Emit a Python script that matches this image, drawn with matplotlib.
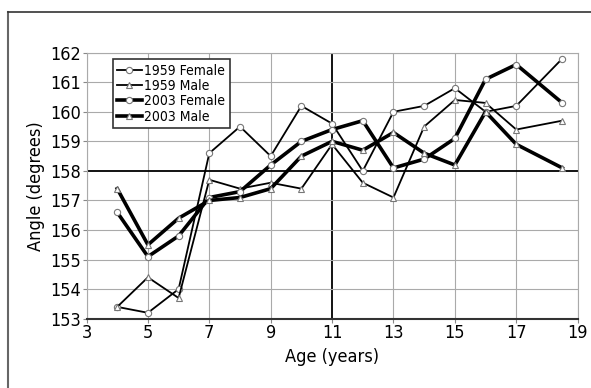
import matplotlib
matplotlib.use('Agg')
import matplotlib.pyplot as plt
from matplotlib.lines import Line2D
from matplotlib import font_manager

# look for a narrow / condensed face, the reference uses a condensed sans
narrow = None
for f in font_manager.fontManager.ttflist:
    if f.stretch in ('condensed', 'semi-condensed', 'extra-condensed') or 'Narrow' in f.name or 'Condensed' in f.name:
        if 'Bold' not in f.fname and 'Oblique' not in f.fname and 'Italic' not in f.fname:
            narrow = f
            break

if narrow is not None:
    font_manager.fontManager.addfont(narrow.fname)
    plt.rcParams['font.family'] = [narrow.name, 'DejaVu Sans']
    plt.rcParams['font.stretch'] = narrow.stretch
    base = 13
else:
    plt.rcParams['font.family'] = ['DejaVu Sans']
    base = 11

# Ages (years) and mean angles (degrees)
ages = [4, 5, 6, 7, 8, 9, 10, 11, 12, 13, 14, 15, 16, 17, 18.5]
female_1959 = [153.4, 153.2, 154.0, 158.6, 159.5, 158.5, 160.2, 159.6, 158.0, 160.0, 160.2, 160.8, 160.0, 160.2, 161.8]
male_1959 = [153.4, 154.4, 153.7, 157.7, 157.4, 157.6, 157.4, 158.9, 157.6, 157.1, 159.5, 160.4, 160.3, 159.4, 159.7]
female_2003 = [156.6, 155.1, 155.8, 157.1, 157.3, 158.2, 159.0, 159.4, 159.7, 158.1, 158.4, 159.1, 161.1, 161.6, 160.3]
male_2003 = [157.4, 155.5, 156.4, 157.0, 157.1, 157.4, 158.5, 159.0, 158.7, 159.3, 158.6, 158.2, 160.0, 158.9, 158.1]

xticks = [3, 5, 7, 9, 11, 13, 15, 17, 19]
yticks = list(range(153, 163))

fig = plt.figure(figsize=(5.91, 3.88), dpi=100)
ax = fig.add_axes([0.1464, 0.1786, 0.831, 0.6856])

# outer frame (left and top edges only visible)
fig.add_artist(Line2D([0.0127, 0.0127], [0, 0.969], color='#666666', lw=1.5))
fig.add_artist(Line2D([0.0127, 1.0], [0.969, 0.969], color='#333333', lw=1.2))

# grid
for x in xticks:
    ax.axvline(x, color='black' if x == 11 else '#aaaaaa',
               lw=1.3 if x == 11 else 0.8, zorder=1)
for y in yticks:
    ax.axhline(y, color='black' if y == 158 else '#aaaaaa',
               lw=1.3 if y == 158 else 0.8, zorder=1)

mk = dict(markerfacecolor='white', markeredgecolor='#777777', markeredgewidth=0.8)
ax.plot(ages, female_1959, '-o', color='black', lw=1.3, ms=4.5, label='1959 Female', zorder=3, **mk)
ax.plot(ages, male_1959, '-^', color='black', lw=1.3, ms=4.5, label='1959 Male', zorder=3, **mk)
ax.plot(ages, female_2003, '-o', color='black', lw=2.6, ms=4.5, label='2003 Female', zorder=3, **mk)
ax.plot(ages, male_2003, '-^', color='black', lw=2.6, ms=4.5, label='2003 Male', zorder=3, **mk)

ax.set_xlim(3, 19)
ax.set_ylim(153, 162)
ax.set_xticks(xticks)
ax.set_yticks(yticks)
ax.tick_params(labelsize=base, length=3, width=0.8, color='#888888', pad=1)
for s in ['top', 'right', 'left']:
    ax.spines[s].set_color('#aaaaaa')
    ax.spines[s].set_linewidth(0.8)
ax.spines['bottom'].set_color('#333333')
ax.spines['bottom'].set_linewidth(1.5)

ax.set_xlabel('Age (years)', fontsize=base, labelpad=4)
ax.set_ylabel('Angle (degrees)', fontsize=base, labelpad=4)

leg = ax.legend(loc='upper left', bbox_to_anchor=(0.053, 0.975), fontsize=base - 3,
                handlelength=1.8, handletextpad=0.2, labelspacing=0.1,
                borderpad=0.3, fancybox=False, framealpha=1, borderaxespad=0)
leg.get_frame().set_edgecolor('#333333')
leg.get_frame().set_linewidth(1.2)

fig.savefig('out.png', dpi=100)
